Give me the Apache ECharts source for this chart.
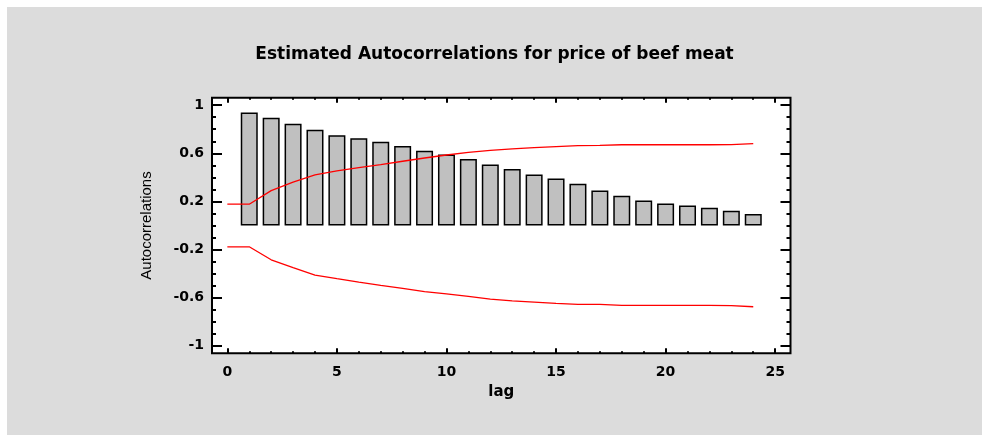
<!DOCTYPE html>
<html><head><meta charset="utf-8">
<script src="https://cdn.jsdelivr.net/npm/echarts@6/dist/echarts.min.js"></script>
<style>html,body{margin:0;padding:0;background:#fff;}#c{position:absolute;left:7px;top:7px;width:975px;height:428px;}</style>
</head><body><div id="c"></div>
<script>
const titleText = 'Estimated Autocorrelations for price of beef meat';
const xName = 'lag';
const yName = 'Autocorrelations';
const lags = [1,2,3,4,5,6,7,8,9,10,11,12,13,14,15,16,17,18,19,20,21,22,23,24];
const acf = [0.94,0.895,0.845,0.796,0.749,0.724,0.696,0.661,0.622,0.589,0.553,0.506,0.47,0.423,0.39,0.346,0.29,0.247,0.208,0.183,0.166,0.147,0.122,0.095];
const limitLags = [0,1,2,3,4,5,6,7,8,9,10,11,12,13,14,15,16,17,18,19,20,21,22,23,24];
const upperLimit = [0.177,0.177,0.29,0.36,0.42,0.454,0.481,0.506,0.534,0.561,0.586,0.608,0.625,0.636,0.647,0.655,0.663,0.666,0.671,0.671,0.671,0.671,0.671,0.672,0.68];
const lowerLimit = [-0.177,-0.177,-0.285,-0.35,-0.412,-0.442,-0.47,-0.497,-0.522,-0.55,-0.569,-0.589,-0.612,-0.627,-0.636,-0.647,-0.656,-0.656,-0.664,-0.664,-0.664,-0.664,-0.664,-0.666,-0.675];
const xMajorTicks = [0,5,10,15,20,25];
const xMinorTicks = [1,2,3,4,6,7,8,9,11,12,13,14,16,17,18,19,21,22,23,24];
const yMajorTicks = [-1,-0.6,-0.2,0.2,0.6,1];
const yMinorTicks = [-0.9,-0.8,-0.7,-0.5,-0.4,-0.3,-0.1,0,0.1,0.3,0.4,0.5,0.7,0.8,0.9];

const X_MIN = -0.7, X_MAX = 25.7, Y_MIN = -1.062, Y_MAX = 1.062;
const labelFont = {fontFamily:'DejaVu Sans', fontWeight:'bold', fontSize:14, color:'#000'};

function xAxisCfg(pos, ticks, len, withLabels) {
  const a = {
    type:'value', position:pos, min:X_MIN, max:X_MAX,
    axisLine:{show:false, onZero:false},
    splitLine:{show:false},
    axisTick:{show:true, inside:true, length:len, customValues:ticks, lineStyle:{color:'#000', width:2}},
    axisLabel:{show:false}
  };
  if (withLabels) {
    a.axisLabel = Object.assign({show:true, customValues:ticks, margin:12}, labelFont);
    a.name = xName; a.nameLocation = 'middle'; a.nameGap = 23;
    a.nameTextStyle = {fontFamily:'DejaVu Sans', fontWeight:'bold', fontSize:15, color:'#000'};
  }
  return a;
}
function yAxisCfg(pos, ticks, len, withLabels) {
  const a = {
    type:'value', position:pos, min:Y_MIN, max:Y_MAX,
    axisLine:{show:false, onZero:false},
    splitLine:{show:false},
    axisTick:{show:true, inside:true, length:len, customValues:ticks, lineStyle:{color:'#000', width:2}},
    axisLabel:{show:false}
  };
  if (withLabels) {
    a.axisLabel = Object.assign({show:true, customValues:ticks, margin:8,
      formatter: v => String(Math.round(v*10)/10)}, labelFont);
    a.name = yName; a.nameLocation = 'middle'; a.nameGap = 58;
    a.nameTextStyle = {fontFamily:'Liberation Sans', fontSize:15, color:'#000'};
  }
  return a;
}

const chart = echarts.init(document.getElementById('c'));
chart.setOption({
  animation:false,
  backgroundColor:'#dcdcdc',
  title:{text:titleText, left:'center', top:39, padding:[0,0,0,14],
    textStyle:{fontFamily:'DejaVu Sans', fontWeight:'bold', fontSize:17, color:'#000'}},
  grid:{left:205, right:191.5, top:90.7, bottom:81.7, show:true, backgroundColor:'#fff', borderColor:'#000', borderWidth:2},
  xAxis:[
    xAxisCfg('bottom', xMajorTicks, 5, true),
    xAxisCfg('bottom', xMinorTicks, 2, false),
    xAxisCfg('top', xMajorTicks, 5, false),
    xAxisCfg('top', xMinorTicks, 2, false)
  ],
  yAxis:[
    yAxisCfg('left', yMajorTicks, 10, true),
    yAxisCfg('left', yMinorTicks, 4, false),
    yAxisCfg('right', yMajorTicks, 10, false),
    yAxisCfg('right', yMinorTicks, 4, false)
  ],
  series:[
    {type:'bar', xAxisIndex:0, yAxisIndex:0, barWidth:17,
     itemStyle:{color:'#c0c0c0', borderColor:'#000', borderWidth:1.5},
     data: lags.map((l,i)=>[l, acf[i]]), z:2},
    {type:'line', xAxisIndex:0, yAxisIndex:0, symbol:'none', lineStyle:{color:'#ff0000', width:1.3},
     data: limitLags.map((l,i)=>[l, upperLimit[i]]), z:3},
    {type:'line', xAxisIndex:0, yAxisIndex:0, symbol:'none', lineStyle:{color:'#ff0000', width:1.3},
     data: limitLags.map((l,i)=>[l, lowerLimit[i]]), z:3}
  ]
});
</script></body></html>
